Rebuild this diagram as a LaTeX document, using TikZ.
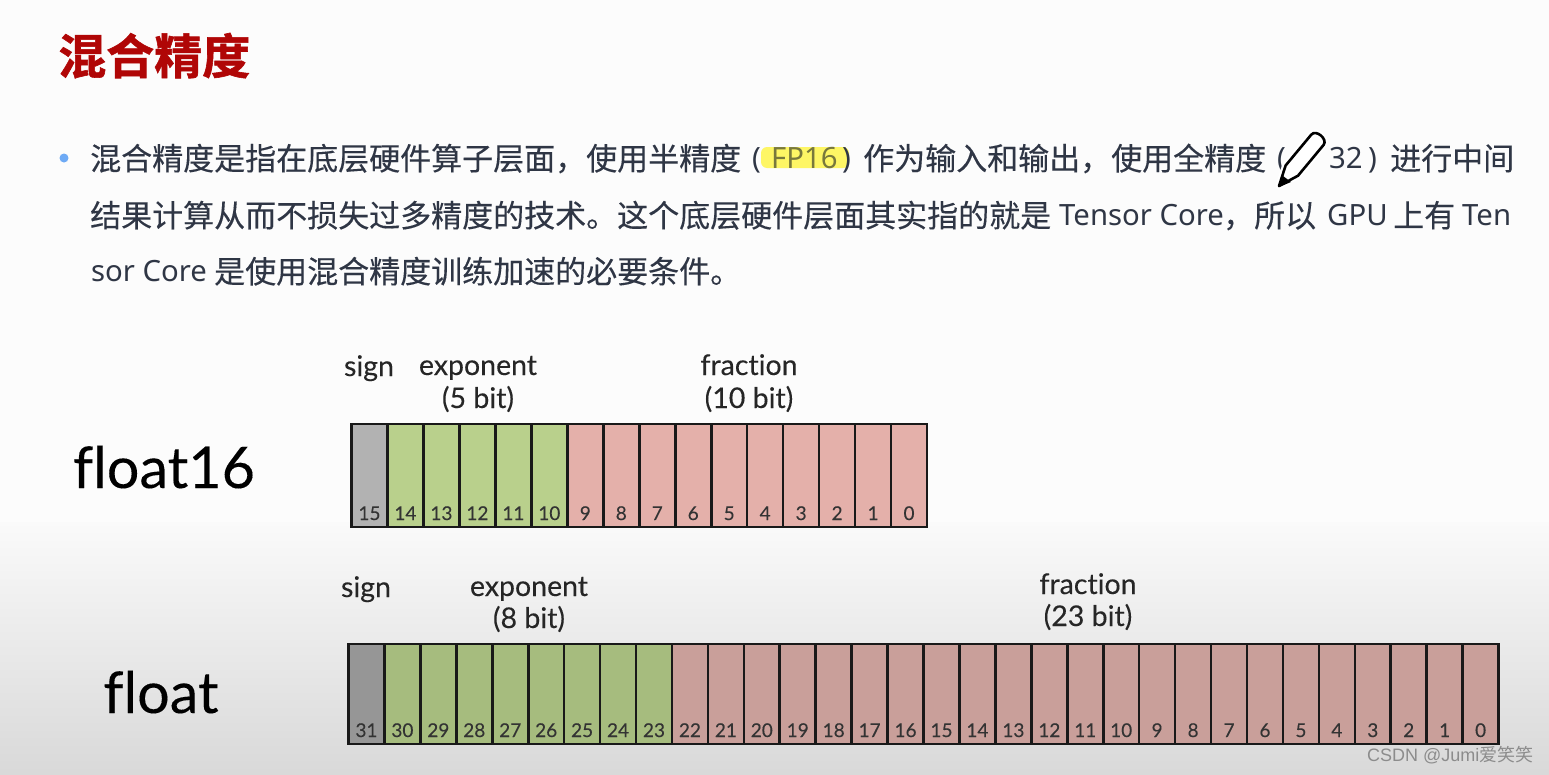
\documentclass[tikz,border=0pt]{standalone}
\usepackage{fontspec}
\setmainfont{Noto Sans}
\newfontfamily\cjk[FakeBold=0.25]{Noto Sans CJK SC}
\newfontfamily\cjktitle[FakeBold=1.2]{Noto Sans CJK SC Bold}
\newfontfamily\diag[Ligatures=NoCommon,FakeBold=0.15]{Lato}
\newfontfamily\wm{Liberation Sans}
\newfontfamily\wmcjk{Noto Sans CJK SC}
\usetikzlibrary{calc}
\definecolor{bodyink}{HTML}{2F3645}
\definecolor{titlered}{RGB}{176,6,6}
\definecolor{bulletblue}{RGB}{110,170,245}
\definecolor{sgnA}{RGB}{178,178,178}
\definecolor{expA}{RGB}{185,208,140}
\definecolor{fraA}{RGB}{228,176,170}
\definecolor{sgnB}{RGB}{150,150,150}
\definecolor{expB}{RGB}{166,188,126}
\definecolor{fraB}{RGB}{201,159,154}
\definecolor{fpink}{RGB}{120,120,60}
\tikzset{
  x=1pt,y=-1pt,
  body/.style={anchor=base west,inner sep=0,text=bodyink,font=\fontsize{31}{31}\selectfont\cjk},
  lat/.style={anchor=base west,inner sep=0,text=bodyink,font=\fontsize{29.3}{29.3}\selectfont},
  dlabel/.style={anchor=base,inner sep=0,text=black!85,font=\fontsize{28.5}{28.5}\selectfont\diag},
  big/.style={anchor=base,inner sep=0,text=black,font=\fontsize{57.5}{57.5}\selectfont\diag},
  cellbase/.style={draw=black!90,line width=2.6pt,anchor=north west,inner sep=0,outer sep=0},
  num/.style={anchor=base,inner sep=0,text=black!80,font=\fontsize{19}{19}\selectfont\diag},
}
\begin{document}
\begin{tikzpicture}
\useasboundingbox (0,0) rectangle (1549,774);
\fill[white!99!black] (0,0) rectangle (1549,522);
\shade[top color=white!98!black,bottom color=black!15] (0,522) rectangle (1549,774);

% title
\node[anchor=base west,inner sep=0,text=titlered,font=\fontsize{48}{48}\selectfont\cjktitle] (title) at (58,74) {混合精度};

% bullet and paragraph
\fill[bulletblue] (64,158) circle (4.5);
\fill[yellow!75!white,opacity=.8,rounded corners=6pt] (761,147) rectangle (849,168);
\node[body] (a1) at (90,170) {混合精度是指在底层硬件算子层面，使用半精度};
\node[lat] (a1p) at (752,168) {(};
\node[lat,text=fpink] (a2) at (771,168) {FP16};
\node[lat] (a2p) at (842,168) {)};
\node[body] (a3) at (863,170) {作为输入和输出，使用全精度};
\node[lat] (a3p) at (1277,168) {(};
\node[lat] (a4) at (1329,168) {32};
\node[lat] (a4p) at (1368,168) {)};
\node[body] (a5) at (1390,170) {进行中间};
\node[body] (b1) at (90,227) {结果计算从而不损失过多精度的技术。这个底层硬件层面其实指的就是};
\node[lat] (b2) at (1059,225) {Tensor Core};
\node[body] (b3) at (1223,227) {，所以};
\node[lat] (b4) at (1327,225) {GPU};
\node[body] (b5) at (1393,227) {上有};
\node[lat] (b6) at (1462,225) {Ten};
\node[lat] (c1) at (91,281) {sor Core};
\node[body] (c2) at (214,283) {是使用混合精度训练加速的必要条件。};

% pencil
\path[draw=white,line width=7pt,line join=round,fill=white]
  (1279,186) -- (1285.6,165.5) -- (1311.2,134.7) .. controls (1316,129) and (1328,139) .. (1323.6,144.9) -- (1298,175.7) -- cycle;
\draw[black,line width=2.6pt,line join=round]
  (1279,186) -- (1285.6,165.5) -- (1311.2,134.7) .. controls (1316,129) and (1328,139) .. (1323.6,144.9) -- (1298,175.7) -- cycle;
\fill[black] (1279,187) -- (1283,176) -- (1291,182) -- cycle;

% float16
\node[big] (f16) at (164,488) {float16};
\node[dlabel] (s16) at (369,376) {sign};
\node[dlabel] (e16) at (478,375) {exponent};
\node[dlabel] (e16b) at (478,408) {(5 bit)};
\node[dlabel] (m16) at (749,375) {fraction};
\node[dlabel] (m16b) at (749,408) {(10 bit)};
\foreach \i in {0,...,15}{
  \pgfmathtruncatemacro{\bit}{15-\i}
  \pgfmathsetmacro{\xx}{351.5+\i*35.97}
  \ifnum\i=0 \colorlet{cellcol}{sgnA}\else\ifnum\i<6 \colorlet{cellcol}{expA}\else\colorlet{cellcol}{fraA}\fi\fi
  \node[cellbase,fill=cellcol,minimum width=35.97pt,minimum height=103pt] (p\bit) at (\xx,424) {};
  \node[num] (pn\bit) at ($(p\bit.south)+(0pt,7pt)$) {\bit};
}

% float
\node[big] (f32) at (161,713) {float};
\node[dlabel] (s32) at (366,597) {sign};
\node[dlabel] (e32) at (529,596) {exponent};
\node[dlabel] (e32b) at (529,628) {(8 bit)};
\node[dlabel] (m32) at (1088,594) {fraction};
\node[dlabel] (m32b) at (1088,626) {(23 bit)};
\foreach \i in {0,...,31}{
  \pgfmathtruncatemacro{\bit}{31-\i}
  \pgfmathsetmacro{\xx}{348.5+\i*35.94}
  \ifnum\i=0 \colorlet{cellcol}{sgnB}\else\ifnum\i<9 \colorlet{cellcol}{expB}\else\colorlet{cellcol}{fraB}\fi\fi
  \node[cellbase,fill=cellcol,minimum width=35.94pt,minimum height=100pt] (q\bit) at (\xx,644) {};
  \node[num] (qn\bit) at ($(q\bit.south)+(0pt,7pt)$) {\bit};
}

% watermark
\node[anchor=base west,inner sep=0,text=black!45,font=\fontsize{18}{18}\selectfont\wm] (wm) at (1367,761) {CSDN @Jumi{\wmcjk 爱笑笑}};
\end{tikzpicture}
\end{document}
